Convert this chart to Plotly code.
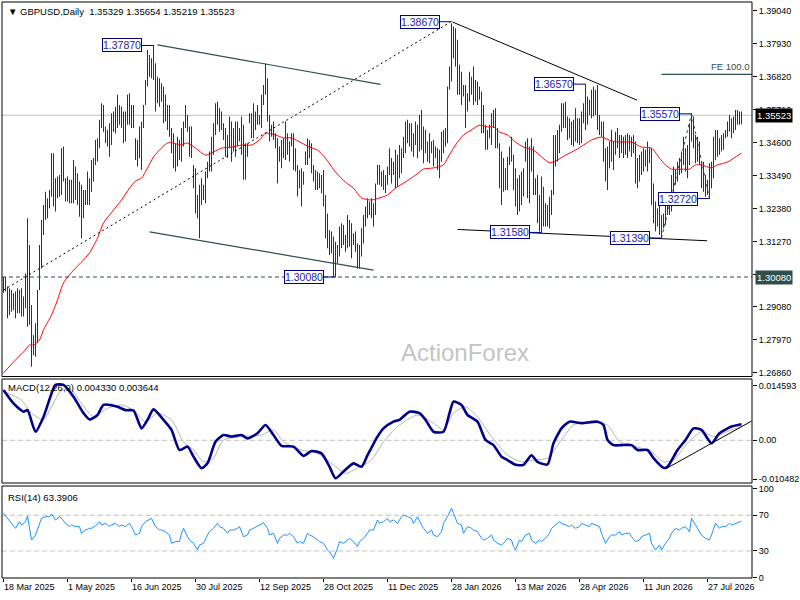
import numpy as np
import plotly.graph_objects as go

# daily GBPUSD bars, prices in 1/10000
HIGH = [
    13009, 13009, 12976, 12970, 12964, 12953, 12959, 12970, 12964, 12970,
    12942, 13020, 13206, 13116, 12914, 12813, 12852, 12964, 13116, 13200,
    13250, 13295, 13273, 13301, 13424, 13424, 13340, 13346, 13351, 13441,
    13447, 13340, 13346, 13335, 13335, 13402, 13380, 13357, 13329, 13318,
    13301, 13301, 13363, 13340, 13402, 13408, 13469, 13475, 13537, 13593,
    13587, 13514, 13503, 13525, 13559, 13565, 13581, 13621, 13587, 13581,
    13565, 13565, 13621, 13626, 13587, 13587, 13475, 13469, 13514, 13531,
    13587, 13671, 13772, 13755, 13744, 13789, 13727, 13682, 13677, 13660,
    13649, 13621, 13587, 13587, 13509, 13492, 13458, 13480, 13469, 13509,
    13531, 13587, 13553, 13514,
    13514, 13385, 13374, 13284, 13318, 13340, 13318, 13363, 13396, 13430,
    13480, 13525, 13593, 13598, 13576, 13565, 13525, 13509, 13486, 13548,
    13531, 13509, 13531, 13531, 13509, 13548, 13520, 13458, 13458, 13559,
    13559, 13593, 13565, 13587, 13553, 13621, 13654, 13727, 13677, 13553,
    13520, 13531, 13492, 13475, 13447, 13469, 13475, 13531, 13492, 13464,
    13492, 13492, 13441, 13385, 13368, 13374, 13363, 13430, 13475, 13469,
    13458, 13385, 13368, 13363, 13357, 13351, 13368, 13284, 13222, 13166,
    13161, 13144, 13127, 13116, 13178, 13189, 13183, 13149, 13217, 13200,
    13189, 13155, 13161, 13121, 13116, 13172, 13217, 13245, 13273, 13262,
    13273, 13256, 13323, 13385,
    13385, 13363, 13368, 13351, 13380, 13441, 13408, 13396, 13436, 13419,
    13452, 13441, 13480, 13531, 13537, 13525, 13525, 13492, 13531, 13520,
    13553, 13570, 13514, 13503, 13464, 13492, 13464, 13469, 13447, 13441,
    13436, 13497, 13503, 13509, 13649, 13716, 13862, 13851, 13845, 13806,
    13722, 13699, 13654, 13654, 13626, 13699, 13682, 13716, 13671, 13666,
    13649, 13632, 13587, 13520, 13503, 13520, 13559, 13570, 13576, 13509,
    13458, 13430, 13408, 13374, 13413, 13447, 13480, 13419, 13374, 13340,
    13351, 13363, 13374, 13464, 13475, 13447, 13475, 13447, 13340, 13351,
    13284, 13346, 13312, 13256, 13250, 13278, 13301, 13486, 13486, 13503,
    13520, 13593, 13593, 13598,
    13548, 13542, 13531, 13537, 13576, 13542, 13542, 13565, 13593, 13657,
    13615, 13604, 13638, 13649, 13638, 13654, 13553, 13531, 13531, 13441,
    13447, 13464, 13503, 13464, 13497, 13509, 13486, 13486, 13480, 13486,
    13492, 13486, 13480, 13486, 13464, 13408, 13419, 13430, 13441, 13436,
    13464, 13441, 13441, 13323, 13262, 13239, 13250, 13217, 13222, 13267,
    13262, 13278, 13351, 13380, 13368, 13396, 13408, 13430, 13480, 13441,
    13452, 13525, 13559, 13548, 13486, 13480, 13464, 13396, 13396, 13351,
    13335, 13391, 13396, 13480, 13503, 13503, 13475, 13486, 13492, 13503,
    13531, 13553, 13542, 13548, 13570, 13570, 13565, 13565,
]
LOW = [
    12955, 12959, 12869, 12880, 12891, 12897, 12869, 12886, 12886, 12875,
    12875, 12903, 12841, 12847, 12706, 12746, 12740, 12785, 12964, 13037,
    13149, 13200, 13206, 13239, 13278, 13245, 13228, 13273, 13278, 13284,
    13329, 13262, 13262, 13256, 13256, 13256, 13267, 13250, 13211, 13138,
    13206, 13250, 13250, 13250, 13295, 13329, 13385, 13396, 13441, 13509,
    13497, 13458, 13447, 13413, 13452, 13497, 13492, 13509, 13520, 13509,
    13458, 13464, 13520, 13520, 13509, 13509, 13402, 13380, 13408, 13368,
    13509, 13587, 13649, 13682, 13677, 13671, 13565, 13593, 13581, 13598,
    13525, 13531, 13503, 13480, 13424, 13374, 13363, 13380, 13402, 13396,
    13447, 13509, 13497, 13413,
    13408, 13307, 13222, 13206, 13138, 13250, 13267, 13256, 13340, 13363,
    13363, 13419, 13486, 13520, 13497, 13503, 13469, 13413, 13408, 13441,
    13396, 13430, 13413, 13447, 13464, 13419, 13335, 13335, 13413, 13525,
    13475, 13475, 13503, 13520, 13520, 13509, 13587, 13621, 13531, 13464,
    13480, 13469, 13441, 13323, 13396, 13374, 13408, 13402, 13419, 13396,
    13447, 13368, 13363, 13279, 13307, 13245, 13318, 13385, 13385, 13408,
    13357, 13329, 13301, 13301, 13307, 13290, 13245, 13138, 13105, 13082,
    13088, 13009, 13008, 13054, 13077, 13105, 13116, 13093, 13105, 13110,
    13071, 13116, 13093, 13037, 13037, 13077, 13121, 13178, 13206, 13217,
    13206, 13178, 13217, 13318,
    13318, 13312, 13301, 13290, 13318, 13351, 13323, 13351, 13307, 13312,
    13340, 13357, 13408, 13424, 13458, 13447, 13430, 13413, 13452, 13408,
    13430, 13436, 13391, 13424, 13396, 13391, 13424, 13380, 13408, 13368,
    13340, 13396, 13424, 13447, 13458, 13638, 13666, 13744, 13716, 13621,
    13621, 13587, 13615, 13509, 13565, 13598, 13621, 13587, 13598, 13587,
    13604, 13492, 13492, 13436, 13436, 13475, 13452, 13509, 13441, 13441,
    13307, 13250, 13295, 13301, 13301, 13385, 13396, 13301, 13245, 13217,
    13228, 13250, 13279, 13396, 13273, 13256, 13363, 13284, 13284, 13189,
    13161, 13158, 13178, 13178, 13178, 13172, 13217, 13284, 13380, 13396,
    13424, 13497, 13509, 13509,
    13469, 13475, 13452, 13447, 13464, 13458, 13452, 13458, 13525, 13503,
    13520, 13553, 13542, 13548, 13553, 13503, 13486, 13480, 13396, 13329,
    13301, 13374, 13396, 13368, 13419, 13441, 13408, 13424, 13408, 13419,
    13408, 13430, 13413, 13424, 13323, 13307, 13329, 13351, 13363, 13380,
    13363, 13391, 13250, 13189, 13161, 13178, 13149, 13140, 13172, 13183,
    13217, 13217, 13228, 13278, 13318, 13329, 13351, 13357, 13385, 13363,
    13340, 13385, 13464, 13441, 13391, 13396, 13385, 13307, 13295, 13278,
    13284, 13272, 13307, 13340, 13402, 13413, 13419, 13430, 13436, 13475,
    13480, 13497, 13475, 13492, 13503, 13520, 13520, 13522,
]

# red moving average, read at these bars
MA_BAR = [0, 5, 10, 13, 15, 18, 20, 24, 27, 30, 35, 39, 43, 47, 50, 55, 59, 63,
          66, 69, 72, 75, 79, 82, 85, 88, 92, 96, 101, 105, 109, 114, 119, 124,
          128, 131, 136, 140, 144, 149, 153, 157, 161, 166, 171, 175, 179, 184,
          188, 192, 196, 201, 206, 210, 215, 220, 222, 226, 230, 234, 238, 242,
          245, 248, 252, 256, 260, 265, 269, 273, 277, 281, 286, 290, 294, 299,
          304, 309, 314, 319, 324, 328, 331, 334, 339, 343, 346, 349, 354, 357,
          362, 369]
MA = [12685, 12722, 12756, 12779, 12779, 12796, 12830, 12880, 12931, 12988,
      13031, 13058, 13089, 13139, 13190, 13233, 13267, 13307, 13331, 13341,
      13375, 13412, 13442, 13459, 13459, 13452, 13459, 13442, 13418, 13429,
      13442, 13445, 13452, 13452, 13469, 13492, 13486, 13476, 13476, 13459,
      13445, 13435, 13408, 13361, 13327, 13307, 13274, 13267, 13274, 13284,
      13307, 13328, 13351, 13371, 13375, 13385, 13408, 13452, 13486, 13503,
      13519, 13513, 13513, 13496, 13486, 13462, 13445, 13435, 13412, 13392,
      13402, 13418, 13435, 13452, 13469, 13479, 13466, 13462, 13462, 13445,
      13442, 13408, 13385, 13371, 13371, 13371, 13385, 13385, 13375, 13385,
      13395, 13425]

MACD_BAR = [0, 5, 10, 12, 16, 20, 24, 26, 30, 35, 40, 43, 47, 50, 57, 61, 65,
            69, 72, 75, 80, 84, 88, 92, 95, 99, 102, 106, 110, 114, 119, 122,
            127, 131, 135, 139, 145, 150, 154, 159, 163, 166, 170, 175, 179,
            182, 187, 190, 195, 198, 203, 208, 211, 215, 220, 223, 225, 229,
            232, 237, 241, 245, 249, 252, 256, 260, 264, 267, 272, 275, 279,
            283, 289, 297, 300, 302, 305, 309, 314, 317, 322, 325, 330, 332,
            337, 341, 345, 349, 354, 358, 364, 369]
MACD = [0.0135, 0.0099, 0.0077, 0.0081, 0.0023, 0.0063, 0.0126, 0.0149,
        0.0149, 0.0117, 0.0073, 0.0056, 0.0068, 0.0095, 0.0090, 0.0081,
        0.0080, 0.0032, 0.0055, 0.0083, 0.0055, 0.0028, -0.0026, -0.0017,
        -0.0044, -0.0075, -0.0062, -0.0004, 0.0014, 0.0010, 0.0014, 0.0005,
        0.0019, 0.0041, 0.0014, -0.0015, -0.0017, -0.0042, -0.0029, -0.0035,
        -0.0071, -0.0102, -0.0084, -0.0062, -0.0071, -0.0040, 0.0010, 0.0032,
        0.0050, 0.0055, 0.0077, 0.0073, 0.0055, 0.0023, 0.0023, 0.0073,
        0.0104, 0.0095, 0.0068, 0.0050, 0.0001, -0.0013, -0.0044, -0.0053,
        -0.0066, -0.0066, -0.0040, -0.0058, -0.0065, -0.0008, 0.0032, 0.0050,
        0.0046, 0.0050, 0.0041, 0.0001, -0.0013, -0.0013, -0.0013, -0.0026,
        -0.0026, -0.0048, -0.0074, -0.0071, -0.0026, 0.0001, 0.0032, 0.0028,
        -0.0008, 0.0019, 0.0037, 0.004330]

SIGNAL_BAR = [0, 9, 14, 20, 24, 29, 34, 39, 45, 52, 59, 65, 71, 77, 84, 90, 95,
              100, 105, 110, 119, 129, 135, 140, 149, 157, 165, 171, 177, 184,
              190, 197, 207, 215, 220, 225, 231, 237, 244, 252, 259, 265, 272,
              279, 285, 295, 302, 308, 315, 324, 330, 335, 342, 349, 355, 364,
              369]
SIGNAL = [0.0131, 0.0108, 0.0073, 0.0055, 0.0090, 0.0135, 0.0135, 0.0099,
          0.0063, 0.0086, 0.0095, 0.0081, 0.0050, 0.0073, 0.0055, -0.0004,
          -0.0026, -0.0058, -0.0048, 0.0001, 0.0010, 0.0014, 0.0028, -0.0004,
          -0.0026, -0.0035, -0.0066, -0.0089, -0.0075, -0.0053, -0.0004,
          0.0037, 0.0068, 0.0046, 0.0028, 0.0073, 0.0090, 0.0063, 0.0010,
          -0.0040, -0.0058, -0.0053, -0.0048, 0.0001, 0.0041, 0.0050, 0.0041,
          -0.0004, -0.0015, -0.0031, -0.0058, -0.0053, -0.0008, 0.0023,
          0.0010, 0.0028, 0.003644]

RSI_BAR = [0, 3, 4, 6, 8, 9, 11, 12, 13, 14, 16, 18, 19, 21, 23, 24, 26, 28,
           29, 31, 33, 34, 36, 38, 39, 41, 43, 44, 46, 48, 49, 51, 53, 54, 56,
           58, 59, 61, 63, 64, 66, 68, 69, 71, 73, 74, 76, 78, 79, 81, 83, 84,
           86, 88, 89, 90, 92, 93, 95, 97, 98, 100, 102, 103, 105, 107, 108,
           110, 112, 113, 115, 117, 118, 120, 122, 123, 125, 127, 128, 130,
           132, 133, 135, 137, 138, 140, 142, 143, 145, 147, 148, 150, 152,
           153, 155, 157, 158, 160, 162, 163, 165, 167, 168, 170, 172, 173,
           175, 177, 178, 180, 182, 183, 185, 187, 188, 190, 192, 193, 195,
           197, 199, 200, 202, 204, 205, 207, 209, 210, 212, 214, 215, 217,
           219, 220, 222, 224, 225, 227, 229, 230, 232, 234, 235, 237, 239,
           240, 242, 244, 245, 247, 249, 250, 252, 254, 255, 256, 258, 259,
           261, 263, 264, 266, 268, 269, 271, 273, 274, 276, 278, 279, 281,
           283, 284, 286, 288, 289, 291, 293, 294, 296, 298, 299, 301, 303,
           304, 306, 308, 309, 311, 313, 314, 316, 318, 319, 321, 323, 324,
           326, 328, 329, 331, 333, 334, 336, 338, 339, 341, 343, 344, 346,
           348, 349, 351, 353, 354, 356, 358, 359, 361, 363, 364, 366, 368,
           369]
RSI = [72.2, 62.8, 61.0, 55.4, 62.8, 59.1, 62.8, 69.2, 57.3, 42.3, 47.9, 59.1,
       66.6, 68.4, 68.4, 71.4, 64.7, 68.4, 66.6, 61.0, 57.3, 59.1, 57.3, 57.3,
       49.8, 53.5, 55.4, 55.4, 58.0, 62.8, 59.1, 61.0, 57.3, 59.1, 61.0, 57.3,
       59.1, 57.3, 61.0, 57.3, 47.9, 49.8, 57.3, 62.8, 65.5, 66.6, 57.3, 53.5,
       53.5, 51.6, 47.9, 38.6, 40.5, 40.5, 49.8, 55.4, 46.0, 42.3, 38.6, 31.1,
       36.7, 38.6, 47.9, 51.6, 55.4, 61.0, 57.3, 55.4, 49.8, 53.5, 53.5, 55.4,
       57.3, 46.0, 47.9, 53.5, 55.4, 57.3, 59.1, 61.7, 55.4, 47.9, 49.8, 38.6,
       44.2, 47.9, 47.9, 49.8, 46.0, 38.6, 40.5, 38.6, 49.8, 47.9, 46.0, 42.3,
       40.5, 38.6, 31.1, 29.2, 21.8, 33.0, 40.5, 38.6, 42.3, 44.2, 40.5, 34.9,
       40.5, 44.2, 49.8, 53.5, 53.5, 64.7, 61.0, 62.8, 66.6, 62.8, 64.7, 61.0,
       68.4, 70.3, 68.4, 66.6, 61.0, 68.4, 59.1, 55.4, 49.8, 53.5, 47.9, 46.0,
       51.6, 61.0, 68.4, 77.8, 72.2, 61.0, 59.1, 49.8, 57.3, 55.4, 53.5, 51.6,
       44.2, 42.3, 44.2, 47.9, 42.3, 38.6, 36.7, 38.6, 44.2, 42.3, 34.9, 31.1,
       42.3, 40.5, 47.9, 49.8, 42.3, 38.6, 42.3, 40.5, 44.2, 49.8, 55.4, 59.1,
       62.8, 61.0, 59.1, 57.3, 59.1, 55.4, 57.3, 61.0, 59.1, 57.3, 61.0, 59.1,
       57.3, 49.8, 38.6, 46.0, 47.9, 47.9, 51.6, 47.9, 49.8, 49.8, 46.0, 40.5,
       42.3, 46.0, 47.9, 49.8, 38.6, 31.1, 36.7, 31.1, 38.6, 44.2, 49.8, 55.4,
       53.5, 55.4, 57.3, 51.6, 66.6, 59.1, 51.6, 47.9, 44.2, 42.3, 47.9, 61.0,
       55.4, 57.3, 57.3, 61.0, 59.1, 61.0, 62.8, 63.39]

DATE_BAR = [0, 32, 64, 96, 128, 160, 192, 224, 256, 288, 320, 352]
DATE_LABELS = ['18 Mar 2025', '1 May 2025', '16 Jun 2025', '30 Jul 2025',
               '12 Sep 2025', '28 Oct 2025', '11 Dec 2025', '28 Jan 2026',
               '13 Mar 2026', '28 Apr 2026', '11 Jun 2026', '27 Jul 2026']
# the 1.30180 and 1.35710 ticks sit under the level boxes, as in the terminal
PRICE_TICKS = [1.39040, 1.37930, 1.36820, 1.35710, 1.34600, 1.33490,
               1.32380, 1.31270, 1.30180, 1.29080, 1.27970, 1.26860]

# swing highs / lows with price labels
PIVOT_BAR = [75, 224, 166, 291, 269, 329, 344, 353]
PIVOT_PRICE = [1.3787, 1.3867, 1.3008, 1.3657, 1.3158, 1.3139, 1.3557, 1.3272]

LAST_PRICE = 1.35523
SUPPORT = 1.30080
FE_LEVEL = 1.3690

# drawn trend lines: (bar0, price0, bar1, price1)
CHANNEL_LINES = [(77, 1.3789, 188.5, 1.3656), (73, 1.3160, 185, 1.3031)]
BLACK_LINES = [(224.5, 1.3866, 316.8, 1.3603), (227, 1.3168, 351.8, 1.3130)]
DOTTED_LINE = (0, 1.2964, 223.5, 1.3866)
MACD_LINE = (331, -0.0077, 374, 0.00515)

BAR_CLR = '#113b50'
SLATE = '#2f4f4f'
NAVY = '#000080'
FONT = 'Liberation Sans, Arial, sans-serif'

P_DOM = [0.3498, 1.0]
M_DOM = [0.1649, 0.3455]
R_DOM = [0.0, 0.1597]

high = np.array(HIGH) / 1e4
low = np.array(LOW) / 1e4
bars = np.arange(len(high))

fig = go.Figure()
# one thin column per day, from the low to the high
fig.add_trace(go.Bar(
    x=bars, y=high - low, base=low, width=0.4,
    marker=dict(color=BAR_CLR, line=dict(width=0)),
))
fig.add_trace(go.Scatter(
    x=MA_BAR, y=np.array(MA) / 1e4, mode='lines',
    line=dict(color='#ff0000', width=1, shape='spline', smoothing=0.6),
))
fig.add_trace(go.Scatter(
    x=SIGNAL_BAR, y=SIGNAL, mode='lines', yaxis='y2',
    line=dict(color='#b4b4b4', width=1, shape='spline', smoothing=0.6),
))
fig.add_trace(go.Scatter(
    x=MACD_BAR, y=MACD, mode='lines', yaxis='y2',
    line=dict(color='#00008b', width=2.6, shape='spline', smoothing=0.6),
))
fig.add_trace(go.Scatter(
    x=RSI_BAR, y=RSI, mode='lines', yaxis='y3',
    line=dict(color='#1e90ff', width=1),
))

shapes = []


def seg(x0, y0, x1, y1, color, width=1, dash='solid', yref='y', layer='above'):
    shapes.append(dict(type='line', xref='x', yref=yref, x0=x0, y0=y0,
                       x1=x1, y1=y1, layer=layer,
                       line=dict(color=color, width=width, dash=dash)))


# level lines
shapes.append(dict(type='line', xref='paper', yref='y', x0=0, x1=1,
                   y0=LAST_PRICE, y1=LAST_PRICE, layer='below',
                   line=dict(color='#c0c0c0', width=1)))
shapes.append(dict(type='line', xref='paper', yref='y', x0=0, x1=1,
                   y0=SUPPORT, y1=SUPPORT,
                   line=dict(color=SLATE, width=1, dash='4px,3px')))
shapes.append(dict(type='line', xref='paper', yref='y2', x0=0, x1=1,
                   y0=0, y1=0, layer='below',
                   line=dict(color='#c0c0c0', width=1, dash='5px,3px')))
for lv in (70, 30):
    shapes.append(dict(type='line', xref='paper', yref='y3', x0=0, x1=1,
                       y0=lv, y1=lv, layer='below',
                       line=dict(color='#c0c0c0', width=1, dash='5px,3px')))

for x0, y0, x1, y1 in CHANNEL_LINES:
    seg(x0, y0, x1, y1, SLATE, 1.2)
for x0, y0, x1, y1 in BLACK_LINES:
    seg(x0, y0, x1, y1, 'black', 1)
seg(*DOTTED_LINE, 'black', 1, '2px,3px')
seg(*MACD_LINE, 'black', 1, yref='y2')

# fibonacci expansion A-B-C
fe_a, fe_b, fe_c = 5, 6, 7
seg(PIVOT_BAR[fe_a], PIVOT_PRICE[fe_a], PIVOT_BAR[fe_b], PIVOT_PRICE[fe_b],
    SLATE, 1, 'dot')
seg(PIVOT_BAR[fe_b], PIVOT_PRICE[fe_b], PIVOT_BAR[fe_c], PIVOT_PRICE[fe_c],
    SLATE, 1, 'dot')
seg(PIVOT_BAR[fe_a], FE_LEVEL, 374.25, FE_LEVEL, SLATE, 1.2)

annotations = []
for b, p in zip(PIVOT_BAR, PIVOT_PRICE):
    seg(b - 6, p, b, p, NAVY, 1)
    annotations.append(dict(
        x=b - 6, y=p, xref='x', yref='y', xanchor='right', yanchor='middle',
        text=f'{p:.5f}', showarrow=False, bgcolor='white',
        bordercolor=NAVY, borderwidth=1, borderpad=0,
        font=dict(family=FONT, size=10.5, color='#1c1ca8'),
    ))

annotations += [
    dict(x=374.25, y=FE_LEVEL, xref='x', yref='y', xanchor='right',
         yanchor='bottom', text='FE 100.0', showarrow=False,
         font=dict(family=FONT, size=9.5, color=SLATE)),
    dict(x=1, y=LAST_PRICE, xref='paper', yref='y', xanchor='left',
         yanchor='middle', xshift=3, text=f'{LAST_PRICE:.5f}',
         showarrow=False, bgcolor='black', borderpad=1,
         font=dict(family=FONT, size=9.5, color='white')),
    dict(x=1, y=SUPPORT, xref='paper', yref='y', xanchor='left',
         yanchor='middle', xshift=3, text=f'{SUPPORT:.5f}',
         showarrow=False, bgcolor=SLATE, borderpad=1,
         font=dict(family=FONT, size=9.5, color='white')),
    dict(x=0, y=P_DOM[1], xref='paper', yref='paper', xanchor='left',
         yanchor='top', xshift=4, yshift=-2,
         text='\u25bc GBPUSD,Daily  1.35329 1.35654 1.35219 1.35523',
         showarrow=False, font=dict(family=FONT, size=9.5, color='black')),
    dict(x=0, y=M_DOM[1], xref='paper', yref='paper', xanchor='left',
         yanchor='top', xshift=4, yshift=-1,
         text='MACD(12,26,9) 0.004330 0.003644',
         showarrow=False, font=dict(family=FONT, size=9.5, color='black')),
    dict(x=0, y=R_DOM[1], xref='paper', yref='paper', xanchor='left',
         yanchor='top', xshift=4, yshift=-4, text='RSI(14) 63.3906',
         showarrow=False, font=dict(family=FONT, size=9.5, color='black')),
    dict(x=0.617, y=0.392, xref='paper', yref='paper', xanchor='center',
         yanchor='middle', text='ActionForex', showarrow=False,
         font=dict(family=FONT, size=24, color='#c4c4c4')),
]

# panel frames
for dom in (P_DOM, M_DOM, R_DOM):
    shapes.append(dict(type='rect', xref='paper', yref='paper', x0=0, x1=1,
                       y0=dom[0], y1=dom[1], line=dict(color='black', width=1)))

axis_font = dict(family=FONT, size=9, color='black')
yax = dict(side='right', anchor='x', showgrid=False, zeroline=False,
           ticks='outside', ticklen=4, tickcolor='black', tickfont=axis_font,
           fixedrange=True, automargin=False)

fig.update_layout(
    width=800, height=600,
    margin=dict(l=2, r=48, t=2, b=22),
    paper_bgcolor='white', plot_bgcolor='white',
    showlegend=False,
    xaxis=dict(range=[-0.75, 374.25], anchor='y3', tickvals=DATE_BAR,
               ticktext=DATE_LABELS, ticks='outside', ticklen=3,
               tickcolor='black', ticklabelposition='outside right',
               tickfont=axis_font, showgrid=False, zeroline=False,
               automargin=False),
    yaxis=dict(domain=P_DOM, range=[1.26732, 1.39333], tickvals=PRICE_TICKS,
               tickformat='.5f', **yax),
    yaxis2=dict(domain=M_DOM, range=[-0.01148, 0.01647],
                tickvals=[0.014593, 0.0, -0.010482],
                ticktext=['0.014593', '0.00', '-0.010482'], **yax),
    yaxis3=dict(domain=R_DOM, range=[-0.3, 102.8], tickvals=[100, 70, 30, 0],
                **yax),
    shapes=shapes,
    annotations=annotations,
)

fig.write_html("out.html", config={'displayModeBar': False},
               post_script="document.body.style.margin = '0';")
